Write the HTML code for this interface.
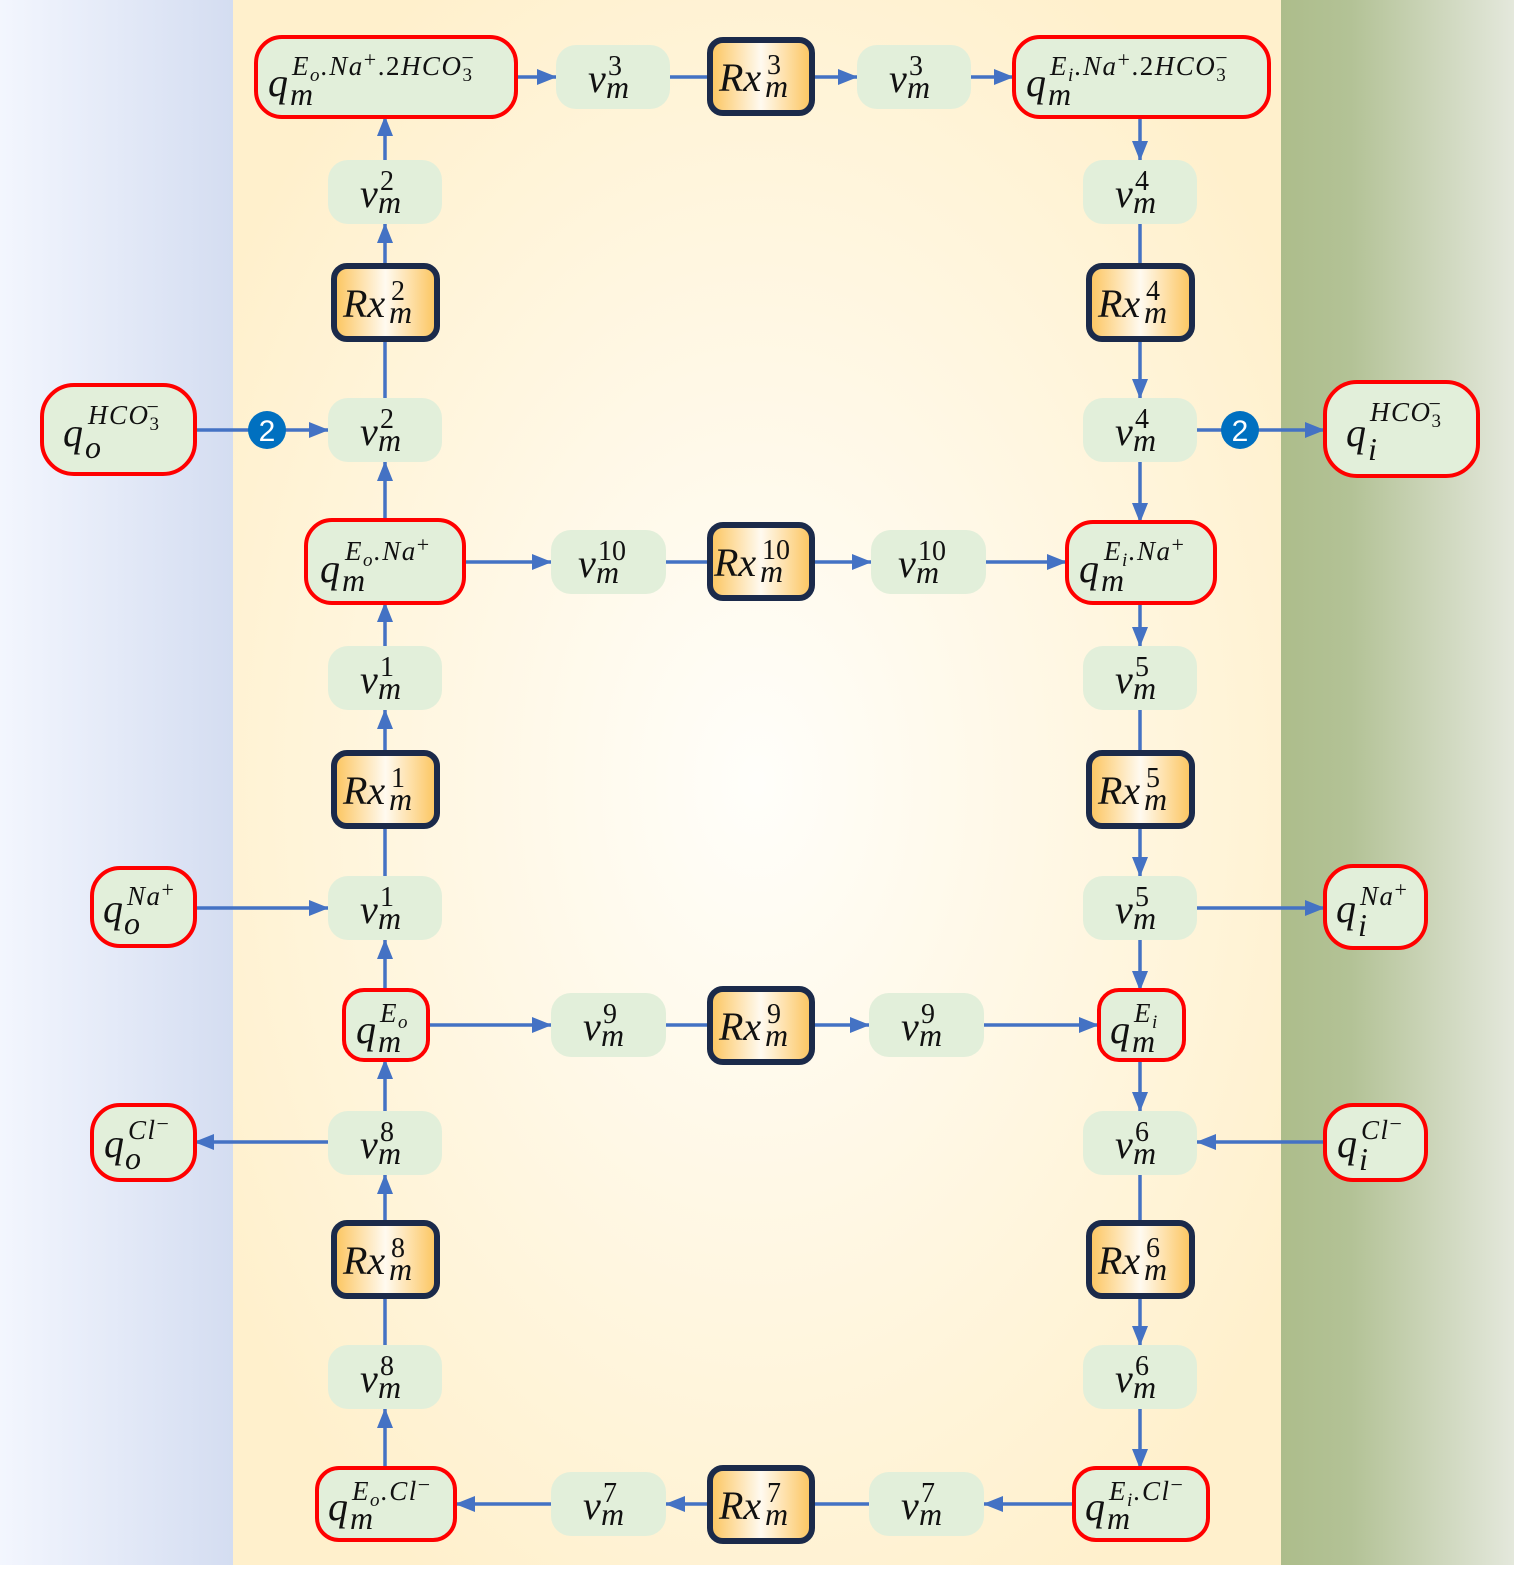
<!DOCTYPE html>
<html><head><meta charset="utf-8">
<style>
html,body{margin:0;padding:0}
body{width:1514px;height:1565px;overflow:hidden}
svg text{font-family:"Liberation Serif",serif;font-style:italic;fill:#111}
.b{font-size:40px}
.s{font-size:28px;font-style:normal!important}
.q{font-size:27px;letter-spacing:1.5px}
.m{font-size:32px}
.n{font-family:"Liberation Sans",sans-serif;font-style:normal!important;font-size:30px;fill:#fff}
</style></head><body>
<svg width="1514" height="1565" viewBox="0 0 1514 1565" xmlns="http://www.w3.org/2000/svg">
<defs>
<linearGradient id="gl" x1="0" x2="1" y1="0" y2="0"><stop offset="0" stop-color="#f3f6fe"/><stop offset="1" stop-color="#d4ddf1"/></linearGradient>
<linearGradient id="gr" x1="0" x2="1" y1="0" y2="0"><stop offset="0" stop-color="#adbd8b"/><stop offset="0.3" stop-color="#b3c296"/><stop offset="1" stop-color="#e4e8dc"/></linearGradient>
<radialGradient id="gm" cx="0.5" cy="0.5" r="0.6"><stop offset="0" stop-color="#fffefa"/><stop offset="1" stop-color="#fff0cc"/></radialGradient>
<linearGradient id="gx" x1="0" x2="1" y1="0" y2="0"><stop offset="0" stop-color="#fcc45c"/><stop offset="0.5" stop-color="#fffaf0"/><stop offset="1" stop-color="#fcc45c"/></linearGradient>
<marker id="a" markerUnits="userSpaceOnUse" markerWidth="20" markerHeight="18" refX="19" refY="9" orient="auto"><path d="M0,1 L20,9 L0,17 Z" fill="#4472c4"/></marker>
</defs>
<rect x="0" y="0" width="233" height="1565" fill="url(#gl)"/>
<rect x="233" y="0" width="1048" height="1565" fill="url(#gm)"/>
<rect x="1281" y="0" width="233" height="1565" fill="url(#gr)"/>

<g stroke="#4472c4" stroke-width="3.5" fill="none">
<line x1="385" y1="1468" x2="385" y2="1409" marker-end="url(#a)"/>
<line x1="385" y1="1345" x2="385" y2="1297"/>
<line x1="385" y1="1222" x2="385" y2="1175" marker-end="url(#a)"/>
<line x1="385" y1="1111" x2="385" y2="1060" marker-end="url(#a)"/>
<line x1="385" y1="990" x2="385" y2="940" marker-end="url(#a)"/>
<line x1="385" y1="876" x2="385" y2="827"/>
<line x1="385" y1="752" x2="385" y2="710" marker-end="url(#a)"/>
<line x1="385" y1="646" x2="385" y2="603" marker-end="url(#a)"/>
<line x1="385" y1="520" x2="385" y2="462" marker-end="url(#a)"/>
<line x1="385" y1="398" x2="385" y2="340"/>
<line x1="385" y1="265" x2="385" y2="224" marker-end="url(#a)"/>
<line x1="385" y1="160" x2="385" y2="117" marker-end="url(#a)"/>
<line x1="517" y1="77" x2="556" y2="77" marker-end="url(#a)"/>
<line x1="670" y1="77" x2="709" y2="77"/>
<line x1="813" y1="77" x2="857" y2="77" marker-end="url(#a)"/>
<line x1="971" y1="77" x2="1013" y2="77" marker-end="url(#a)"/>
<line x1="1140" y1="117" x2="1140" y2="160" marker-end="url(#a)"/>
<line x1="1140" y1="224" x2="1140" y2="265"/>
<line x1="1140" y1="340" x2="1140" y2="398" marker-end="url(#a)"/>
<line x1="1140" y1="462" x2="1140" y2="522" marker-end="url(#a)"/>
<line x1="1140" y1="603" x2="1140" y2="646" marker-end="url(#a)"/>
<line x1="1140" y1="710" x2="1140" y2="752"/>
<line x1="1140" y1="827" x2="1140" y2="876" marker-end="url(#a)"/>
<line x1="1140" y1="940" x2="1140" y2="990" marker-end="url(#a)"/>
<line x1="1140" y1="1060" x2="1140" y2="1111" marker-end="url(#a)"/>
<line x1="1140" y1="1175" x2="1140" y2="1222"/>
<line x1="1140" y1="1297" x2="1140" y2="1345" marker-end="url(#a)"/>
<line x1="1140" y1="1409" x2="1140" y2="1468" marker-end="url(#a)"/>
<line x1="465" y1="562" x2="551" y2="562" marker-end="url(#a)"/>
<line x1="666" y1="562" x2="709" y2="562"/>
<line x1="813" y1="562" x2="871" y2="562" marker-end="url(#a)"/>
<line x1="986" y1="562" x2="1066" y2="562" marker-end="url(#a)"/>
<line x1="428" y1="1025" x2="551" y2="1025" marker-end="url(#a)"/>
<line x1="666" y1="1025" x2="709" y2="1025"/>
<line x1="813" y1="1025" x2="869" y2="1025" marker-end="url(#a)"/>
<line x1="984" y1="1025" x2="1098" y2="1025" marker-end="url(#a)"/>
<line x1="1073" y1="1504" x2="984" y2="1504" marker-end="url(#a)"/>
<line x1="869" y1="1504" x2="813" y2="1504"/>
<line x1="709" y1="1504" x2="666" y2="1504" marker-end="url(#a)"/>
<line x1="551" y1="1504" x2="456" y2="1504" marker-end="url(#a)"/>
<line x1="195" y1="430" x2="328" y2="430" marker-end="url(#a)"/>
<line x1="1197" y1="430" x2="1324" y2="430" marker-end="url(#a)"/>
<line x1="195" y1="908" x2="328" y2="908" marker-end="url(#a)"/>
<line x1="1197" y1="908" x2="1324" y2="908" marker-end="url(#a)"/>
<line x1="328" y1="1142" x2="195" y2="1142" marker-end="url(#a)"/>
<line x1="1324" y1="1142" x2="1197" y2="1142" marker-end="url(#a)"/>
</g>

<circle cx="267" cy="430" r="19" fill="#0070c0"/><text class="n" x="267" y="441" text-anchor="middle">2</text>
<circle cx="1240" cy="430" r="19" fill="#0070c0"/><text class="n" x="1240" y="441" text-anchor="middle">2</text>

<g fill="#e2efda">
<rect x="328" y="160" width="114" height="64" rx="20"/>
<rect x="328" y="398" width="114" height="64" rx="20"/>
<rect x="328" y="646" width="114" height="64" rx="20"/>
<rect x="328" y="876" width="114" height="64" rx="20"/>
<rect x="328" y="1111" width="114" height="64" rx="20"/>
<rect x="328" y="1345" width="114" height="64" rx="20"/>
<rect x="1083" y="160" width="114" height="64" rx="20"/>
<rect x="1083" y="398" width="114" height="64" rx="20"/>
<rect x="1083" y="646" width="114" height="64" rx="20"/>
<rect x="1083" y="876" width="114" height="64" rx="20"/>
<rect x="1083" y="1111" width="114" height="64" rx="20"/>
<rect x="1083" y="1345" width="114" height="64" rx="20"/>
<rect x="556" y="45" width="114" height="64" rx="20"/>
<rect x="857" y="45" width="114" height="64" rx="20"/>
<rect x="551" y="530" width="115" height="64" rx="20"/>
<rect x="871" y="530" width="115" height="64" rx="20"/>
<rect x="551" y="993" width="115" height="64" rx="20"/>
<rect x="869" y="993" width="115" height="64" rx="20"/>
<rect x="551" y="1472" width="115" height="64" rx="20"/>
<rect x="869" y="1472" width="115" height="64" rx="20"/>
</g>

<g fill="url(#gx)" stroke="#1b2a4a" stroke-width="6">
<rect x="334" y="266" width="103" height="73" rx="13"/>
<rect x="334" y="753" width="103" height="73" rx="13"/>
<rect x="334" y="1223" width="103" height="73" rx="13"/>
<rect x="1089" y="266" width="103" height="73" rx="13"/>
<rect x="1089" y="753" width="103" height="73" rx="13"/>
<rect x="1089" y="1223" width="103" height="73" rx="13"/>
<rect x="710" y="40" width="102" height="73" rx="13"/>
<rect x="710" y="525" width="102" height="73" rx="13"/>
<rect x="710" y="989" width="102" height="73" rx="13"/>
<rect x="710" y="1468" width="102" height="73" rx="13"/>
</g>

<g fill="#e2efda" stroke="#ff0000" stroke-width="4">
<rect x="256" y="37" width="260" height="80" rx="26"/>
<rect x="1014" y="37" width="255" height="80" rx="26"/>
<rect x="306" y="520" width="158" height="83" rx="26"/>
<rect x="1067" y="522" width="148" height="81" rx="26"/>
<rect x="344" y="990" width="84" height="70" rx="20"/>
<rect x="1099" y="990" width="85" height="70" rx="20"/>
<rect x="317" y="1468" width="138" height="72" rx="22"/>
<rect x="1074" y="1468" width="134" height="72" rx="22"/>
<rect x="42" y="385" width="153" height="89" rx="32"/>
<rect x="1325" y="382" width="153" height="94" rx="32"/>
<rect x="92" y="868" width="103" height="78" rx="28"/>
<rect x="1325" y="866" width="101" height="82" rx="28"/>
<rect x="92" y="1105" width="103" height="75" rx="28"/>
<rect x="1325" y="1105" width="101" height="75" rx="28"/>
</g>

<g>
<text class="b" x="360" y="207">v</text><text class="s" x="380" y="190">2</text><text class="m" x="378" y="213">m</text>
<text class="b" x="360" y="445">v</text><text class="s" x="380" y="428">2</text><text class="m" x="378" y="451">m</text>
<text class="b" x="360" y="693">v</text><text class="s" x="380" y="676">1</text><text class="m" x="378" y="699">m</text>
<text class="b" x="360" y="923">v</text><text class="s" x="380" y="906">1</text><text class="m" x="378" y="929">m</text>
<text class="b" x="360" y="1158">v</text><text class="s" x="380" y="1141">8</text><text class="m" x="378" y="1164">m</text>
<text class="b" x="360" y="1392">v</text><text class="s" x="380" y="1375">8</text><text class="m" x="378" y="1398">m</text>
<text class="b" x="1115" y="207">v</text><text class="s" x="1135" y="190">4</text><text class="m" x="1133" y="213">m</text>
<text class="b" x="1115" y="445">v</text><text class="s" x="1135" y="428">4</text><text class="m" x="1133" y="451">m</text>
<text class="b" x="1115" y="693">v</text><text class="s" x="1135" y="676">5</text><text class="m" x="1133" y="699">m</text>
<text class="b" x="1115" y="923">v</text><text class="s" x="1135" y="906">5</text><text class="m" x="1133" y="929">m</text>
<text class="b" x="1115" y="1158">v</text><text class="s" x="1135" y="1141">6</text><text class="m" x="1133" y="1164">m</text>
<text class="b" x="1115" y="1392">v</text><text class="s" x="1135" y="1375">6</text><text class="m" x="1133" y="1398">m</text>
<text class="b" x="588" y="92">v</text><text class="s" x="608" y="75">3</text><text class="m" x="606" y="98">m</text>
<text class="b" x="889" y="92">v</text><text class="s" x="909" y="75">3</text><text class="m" x="907" y="98">m</text>
<text class="b" x="578" y="577">v</text><text class="s" x="598" y="560">10</text><text class="m" x="596" y="583">m</text>
<text class="b" x="898" y="577">v</text><text class="s" x="918" y="560">10</text><text class="m" x="916" y="583">m</text>
<text class="b" x="583" y="1040">v</text><text class="s" x="603" y="1023">9</text><text class="m" x="601" y="1046">m</text>
<text class="b" x="901" y="1040">v</text><text class="s" x="921" y="1023">9</text><text class="m" x="919" y="1046">m</text>
<text class="b" x="583" y="1519">v</text><text class="s" x="603" y="1502">7</text><text class="m" x="601" y="1525">m</text>
<text class="b" x="901" y="1519">v</text><text class="s" x="921" y="1502">7</text><text class="m" x="919" y="1525">m</text>
</g>

<g>
<text class="b" x="343" y="317">Rx</text><text class="s" x="391" y="300">2</text><text class="m" x="389" y="323">m</text>
<text class="b" x="343" y="804">Rx</text><text class="s" x="391" y="787">1</text><text class="m" x="389" y="810">m</text>
<text class="b" x="343" y="1274">Rx</text><text class="s" x="391" y="1257">8</text><text class="m" x="389" y="1280">m</text>
<text class="b" x="1098" y="317">Rx</text><text class="s" x="1146" y="300">4</text><text class="m" x="1144" y="323">m</text>
<text class="b" x="1098" y="804">Rx</text><text class="s" x="1146" y="787">5</text><text class="m" x="1144" y="810">m</text>
<text class="b" x="1098" y="1274">Rx</text><text class="s" x="1146" y="1257">6</text><text class="m" x="1144" y="1280">m</text>
<text class="b" x="719" y="91">Rx</text><text class="s" x="767" y="74">3</text><text class="m" x="765" y="97">m</text>
<text class="b" x="714" y="576">Rx</text><text class="s" x="762" y="559">10</text><text class="m" x="760" y="582">m</text>
<text class="b" x="719" y="1040">Rx</text><text class="s" x="767" y="1023">9</text><text class="m" x="765" y="1046">m</text>
<text class="b" x="719" y="1519">Rx</text><text class="s" x="767" y="1502">7</text><text class="m" x="765" y="1525">m</text>
</g>

<g>
<text class="b" x="268" y="96">q</text><text class="m" x="290" y="105">m</text>
<text class="q" x="292" y="75">E<tspan font-size="19" dy="6">o</tspan><tspan dy="-6">.Na</tspan><tspan font-size="22" dy="-8" font-style="normal">+</tspan><tspan dy="8" font-style="normal">.2</tspan><tspan>HCO</tspan><tspan font-size="19" dy="6" font-style="normal">3</tspan><tspan font-size="22" dx="-12" dy="-16" font-style="normal">−</tspan></text>

<text class="b" x="1026" y="96">q</text><text class="m" x="1048" y="105">m</text>
<text class="q" x="1050" y="75">E<tspan font-size="19" dy="6">i</tspan><tspan dy="-6">.Na</tspan><tspan font-size="22" dy="-8" font-style="normal">+</tspan><tspan dy="8" font-style="normal">.2</tspan><tspan>HCO</tspan><tspan font-size="19" dy="6" font-style="normal">3</tspan><tspan font-size="22" dx="-12" dy="-16" font-style="normal">−</tspan></text>

<text class="b" x="320" y="582">q</text><text class="m" x="342" y="591">m</text>
<text class="q" x="345" y="560">E<tspan font-size="19" dy="6">o</tspan><tspan dy="-6">.Na</tspan><tspan font-size="22" dy="-8" font-style="normal">+</tspan></text>

<text class="b" x="1079" y="582">q</text><text class="m" x="1101" y="591">m</text>
<text class="q" x="1104" y="560">E<tspan font-size="19" dy="6">i</tspan><tspan dy="-6">.Na</tspan><tspan font-size="22" dy="-8" font-style="normal">+</tspan></text>

<text class="b" x="356" y="1043">q</text><text class="m" x="378" y="1052">m</text>
<text class="q" x="380" y="1022">E<tspan font-size="19" dy="6">o</tspan></text>

<text class="b" x="1110" y="1043">q</text><text class="m" x="1132" y="1052">m</text>
<text class="q" x="1134" y="1022">E<tspan font-size="19" dy="6">i</tspan></text>

<text class="b" x="328" y="1520">q</text><text class="m" x="350" y="1529">m</text>
<text class="q" x="352" y="1500">E<tspan font-size="19" dy="6">o</tspan><tspan dy="-6">.Cl</tspan><tspan font-size="22" dy="-8" font-style="normal">−</tspan></text>

<text class="b" x="1085" y="1520">q</text><text class="m" x="1107" y="1529">m</text>
<text class="q" x="1109" y="1500">E<tspan font-size="19" dy="6">i</tspan><tspan dy="-6">.Cl</tspan><tspan font-size="22" dy="-8" font-style="normal">−</tspan></text>

<text class="b" x="63" y="446">q</text><text class="m" x="85" y="458">o</text>
<text class="q" x="88" y="424" letter-spacing="3">HCO<tspan font-size="19" dy="6" font-style="normal">3</tspan><tspan font-size="22" dx="-14" dy="-16" font-style="normal">−</tspan></text>

<text class="b" x="1346" y="446">q</text><text class="m" x="1368" y="460">i</text>
<text class="q" x="1370" y="421" letter-spacing="3">HCO<tspan font-size="19" dy="6" font-style="normal">3</tspan><tspan font-size="22" dx="-14" dy="-16" font-style="normal">−</tspan></text>

<text class="b" x="103" y="922">q</text><text class="m" x="124" y="934">o</text>
<text class="q" x="127" y="905">Na<tspan font-size="22" dy="-8" font-style="normal">+</tspan></text>

<text class="b" x="1336" y="922">q</text><text class="m" x="1358" y="936">i</text>
<text class="q" x="1360" y="905">Na<tspan font-size="22" dy="-8" font-style="normal">+</tspan></text>

<text class="b" x="104" y="1157">q</text><text class="m" x="125" y="1169">o</text>
<text class="q" x="128" y="1139">Cl<tspan font-size="22" dy="-8" font-style="normal">−</tspan></text>

<text class="b" x="1337" y="1157">q</text><text class="m" x="1359" y="1170">i</text>
<text class="q" x="1361" y="1139">Cl<tspan font-size="22" dy="-8" font-style="normal">−</tspan></text>
</g>
</svg>
</body></html>
